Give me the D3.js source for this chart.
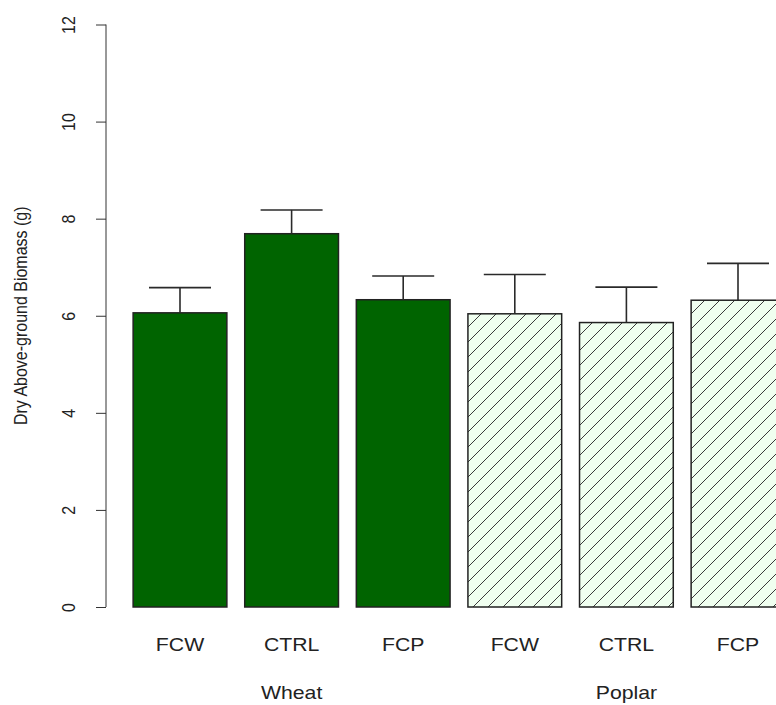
<!DOCTYPE html>
<html>
<head>
<meta charset="utf-8">
<script src="https://cdn.jsdelivr.net/npm/d3@7"></script>
<style>
    body { margin: 0; background: #fff; }
    text { font-family: "Liberation Sans", Arial, sans-serif; fill: #222; }
</style>
</head>
<body>
<div id="chart"></div>
<script>

// data
var categories = ["FCW", "CTRL", "FCP", "FCW", "CTRL", "FCP"];
var groups = ["Wheat", "Poplar"];
var means = [6.06, 7.69, 6.33, 6.04, 5.86, 6.32];
var errors = [0.52, 0.49, 0.49, 0.81, 0.73, 0.76];
var yTicks = [0, 2, 4, 6, 8, 10, 12];

var width = 776,
    height = 705;

// the source picture is a little wider than tall, so text is stretched sideways
var stretch = 1.18;

var svg = d3.select("#chart")
    .append("svg")
    .attr("width", width)
    .attr("height", height);

// hatch pattern for poplar bars
var defs = svg.append("defs");
var hatch = defs.append("pattern")
    .attr("id", "hatch")
    .attr("patternUnits", "userSpaceOnUse")
    .attr("width", 15)
    .attr("height", 15);
hatch.append("rect")
    .attr("width", 15)
    .attr("height", 15)
    .attr("fill", "#f0fff0");
hatch.append("path")
    .attr("d", "M0,15 L15,0 M-3.75,3.75 L3.75,-3.75 M11.25,18.75 L18.75,11.25")
    .attr("stroke", "#3a3a3a")
    .attr("stroke-width", 1);

// scales
var y = d3.scaleLinear()
    .domain([0, 12])
    .range([607, 24.5]);

var x = d3.scaleBand()
    .domain(d3.range(categories.length))
    .range([124.2, 124.2 + 6 * 111.6])
    .paddingInner(0.16)
    .paddingOuter(0.08);

// y axis
var yAxis = d3.axisLeft(y)
    .tickValues(yTicks)
    .tickSize(10)
    .tickPadding(0)
    .tickFormat(d3.format("d"));

var yAxisG = svg.append("g")
    .attr("transform", "translate(106,0)")
    .call(yAxis);
yAxisG.select(".domain")
    .attr("stroke", "#333")
    .attr("d", "M0," + y(12) + "V" + y(0));
yAxisG.selectAll(".tick line").attr("stroke", "#333");
yAxisG.selectAll(".tick text")
    .attr("x", 0)
    .attr("y", 0)
    .attr("dy", null)
    .attr("text-anchor", "middle")
    .attr("font-size", 16)
    .attr("transform", "translate(-31,0) scale(" + stretch + ",1) rotate(-90)");

// axis title
svg.append("text")
    .attr("transform", "translate(27," + y(6) + ") scale(" + stretch + ",1) rotate(-90)")
    .attr("text-anchor", "middle")
    .attr("font-size", 16)
    .text("Dry Above-ground Biomass (g)");

// bars
svg.selectAll("rect.bar")
    .data(means)
    .enter()
    .append("rect")
    .attr("class", "bar")
    .attr("x", function(d, i) { return x(i); })
    .attr("y", function(d) { return y(d); })
    .attr("width", x.bandwidth())
    .attr("height", function(d) { return y(0) - y(d); })
    .attr("fill", function(d, i) { return i < 3 ? "#006400" : "url(#hatch)"; })
    .attr("stroke", "#222")
    .attr("stroke-width", 1.5);

// error bars (upper only)
var err = svg.selectAll("g.err")
    .data(means)
    .enter()
    .append("g")
    .attr("class", "err")
    .attr("stroke", "#2a2a2a")
    .attr("stroke-width", 1.6);
err.append("line")
    .attr("x1", function(d, i) { return x(i) + x.bandwidth() / 2; })
    .attr("x2", function(d, i) { return x(i) + x.bandwidth() / 2; })
    .attr("y1", function(d) { return y(d); })
    .attr("y2", function(d, i) { return y(d + errors[i]); });
err.append("line")
    .attr("x1", function(d, i) { return x(i) + x.bandwidth() / 2 - 31; })
    .attr("x2", function(d, i) { return x(i) + x.bandwidth() / 2 + 31; })
    .attr("y1", function(d, i) { return y(d + errors[i]); })
    .attr("y2", function(d, i) { return y(d + errors[i]); });

// category labels
svg.selectAll("text.cat")
    .data(categories)
    .enter()
    .append("text")
    .attr("class", "cat")
    .attr("transform", function(d, i) {
        return "translate(" + (x(i) + x.bandwidth() / 2) + ",651) scale(" + stretch + ",1)";
    })
    .attr("text-anchor", "middle")
    .attr("font-size", 18)
    .text(function(d) { return d; });

// group labels, under the middle bar of each group
svg.selectAll("text.group")
    .data(groups)
    .enter()
    .append("text")
    .attr("class", "group")
    .attr("transform", function(d, i) {
        return "translate(" + (x(i * 3 + 1) + x.bandwidth() / 2) + ",699) scale(" + stretch + ",1)";
    })
    .attr("text-anchor", "middle")
    .attr("font-size", 18)
    .text(function(d) { return d; });

</script>
</body>
</html>
